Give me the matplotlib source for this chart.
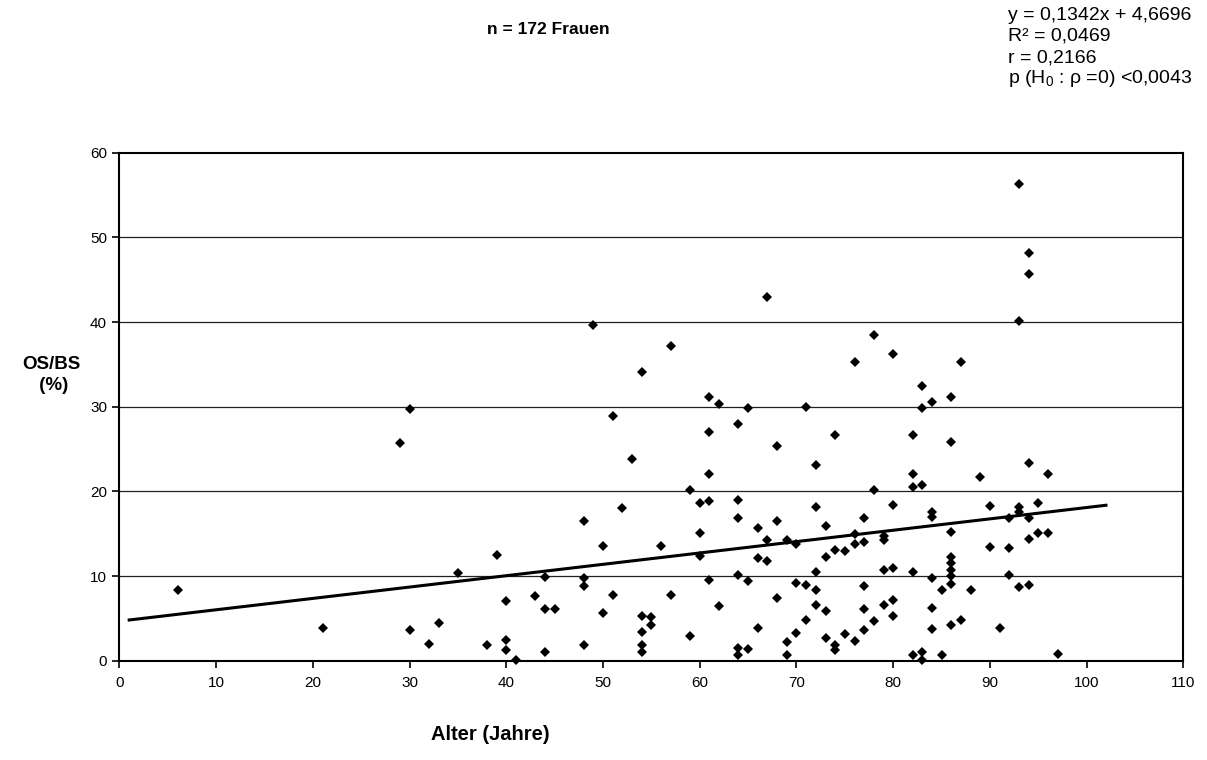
import numpy as np
import matplotlib
matplotlib.use('Agg')
import matplotlib.pyplot as plt

plt.rcParams['font.family'] = ['Liberation Sans', 'DejaVu Sans']
plt.rcParams['mathtext.default'] = 'regular'

# Alter (Jahre) und OS/BS (%) je Patientin
alter = [6, 21, 29, 30, 30, 32, 33, 35, 38,
         67, 49, 57, 54, 61, 62, 65, 51, 61, 64, 68, 53, 61, 59, 60, 61, 64, 52,
         48, 64, 66, 68, 60, 67, 39, 50, 56, 60, 66, 67, 44, 48, 48, 61, 64, 65,
         68, 40, 43, 44, 45, 51, 57, 62, 50, 54, 55, 55, 54, 66, 59, 40, 40, 41,
         44, 48, 54, 54, 64, 65, 64,
         93, 94, 94, 93, 78, 80, 76, 87, 83, 86, 84, 83, 71, 74, 82, 86, 72, 94,
         96, 89, 82, 83, 82, 78, 72, 80, 90, 95, 93, 93, 92, 94, 84, 84, 77, 73,
         86, 95, 96, 79, 79, 76, 76, 77, 69, 70, 75, 74, 73, 94, 90, 92, 86, 86,
         86, 86, 86, 72, 79, 80, 82, 84, 92, 93, 94, 88, 85, 72, 71, 70, 77, 73,
         72, 77, 79, 80, 80, 84, 71, 78, 87, 86, 70, 75, 77, 84, 91, 73, 76, 69,
         74, 74, 69, 82, 83, 83, 85, 97]
os_bs = [8.3, 3.9, 25.7, 29.7, 3.6, 2.0, 4.5, 10.3, 1.8,
         43.0, 39.6, 37.2, 34.1, 31.1, 30.3, 29.9, 28.9, 27.0, 28.0, 25.4, 23.8,
         22.0, 20.1, 18.6, 18.9, 19.0, 18.0, 16.5, 16.9, 15.7, 16.5, 15.1, 14.2,
         12.5, 13.5, 13.5, 12.4, 12.1, 11.8, 9.9, 9.8, 8.8, 9.5, 10.1, 9.4, 7.4,
         7.0, 7.6, 6.1, 6.1, 7.7, 7.8, 6.4, 5.6, 5.3, 5.1, 4.2, 3.4, 3.8, 2.9,
         2.5, 1.3, 0.1, 1.0, 1.9, 1.8, 1.0, 1.5, 1.4, 0.7,
         56.3, 48.2, 45.7, 40.1, 38.5, 36.2, 35.3, 35.3, 32.4, 31.1, 30.5, 29.9,
         30.0, 26.7, 26.7, 25.8, 23.1, 23.4, 22.0, 21.7, 22.0, 20.8, 20.5, 20.1,
         18.1, 18.4, 18.3, 18.6, 18.1, 17.6, 16.9, 16.9, 17.6, 17.0, 16.8, 15.9,
         15.2, 15.1, 15.1, 14.7, 14.2, 15.0, 13.8, 14.0, 14.2, 13.8, 12.9, 13.1,
         12.3, 14.4, 13.4, 13.3, 12.3, 11.5, 10.7, 10.0, 9.0, 10.5, 10.7, 10.9,
         10.5, 9.8, 10.1, 8.7, 8.9, 8.3, 8.3, 8.4, 8.9, 9.2, 8.8, 5.9, 6.6, 6.1,
         6.6, 7.2, 5.3, 6.2, 4.8, 4.7, 4.8, 4.2, 3.3, 3.2, 3.6, 3.7, 3.8, 2.7,
         2.3, 2.2, 1.9, 1.3, 0.7, 0.7, 1.0, 0.1, 0.7, 0.8]

# lineare Trendlinie
steigung = 0.1342
achsenabschnitt = 4.6696
trend_x = [1, 102]
r2 = '0,0469'
r_wert = '0,2166'
p_wert = '<0,0043'

x_ticks = list(range(0, 111, 10))
y_ticks = list(range(0, 61, 10))

fig = plt.figure(figsize=(12.07, 7.6), dpi=100)
ax = fig.add_axes([0.099, 0.1307, 0.8814, 0.6684])

for yv in y_ticks[1:-1]:
    ax.axhline(yv, color='#202020', lw=0.9, zorder=1)

ax.plot(alter, os_bs, linestyle='none', marker='D', ms=4.8,
        color='black', markeredgewidth=0, zorder=3, clip_on=False)

tx = np.array(trend_x, dtype=float)
ax.plot(tx, steigung * tx + achsenabschnitt, color='black', lw=2.2, zorder=4)

ax.set_xlim(0, 110)
ax.set_ylim(0, 60)
ax.set_xticks(x_ticks)
ax.set_yticks(y_ticks)
ax.tick_params(axis='both', direction='out', length=5, width=1.2,
               labelsize=11, color='black')
ax.tick_params(axis='x', pad=6)
ax.tick_params(axis='y', pad=4)
for sp in ax.spines.values():
    sp.set_linewidth(1.5)
    sp.set_color('black')

fig.text(548 / 1207, 1 - 30 / 760, 'n = 172 Frauen', ha='center', va='center',
         fontsize=12.5, fontweight='bold')

stats = [f'y = {steigung:.4f}x + {achsenabschnitt:.4f}'.replace('.', ','),
         f'R² = {r2}',
         f'r = {r_wert}',
         f'p (H$_0$ : ρ =0) {p_wert}']
for i, line in enumerate(stats):
    fig.text(1008 / 1207, 1 - (15 + 21.3 * i) / 760, line, ha='left',
             va='center', fontsize=14)

fig.text(51 / 1207, 1 - 375 / 760, 'OS/BS\n (%)', ha='center', va='center',
         fontsize=13.5, fontweight='bold', linespacing=1.3)
fig.text(490 / 1207, 1 - 735 / 760, 'Alter (Jahre)', ha='center', va='center',
         fontsize=14.5, fontweight='bold')

fig.savefig('out.png', dpi=100, facecolor='white')
